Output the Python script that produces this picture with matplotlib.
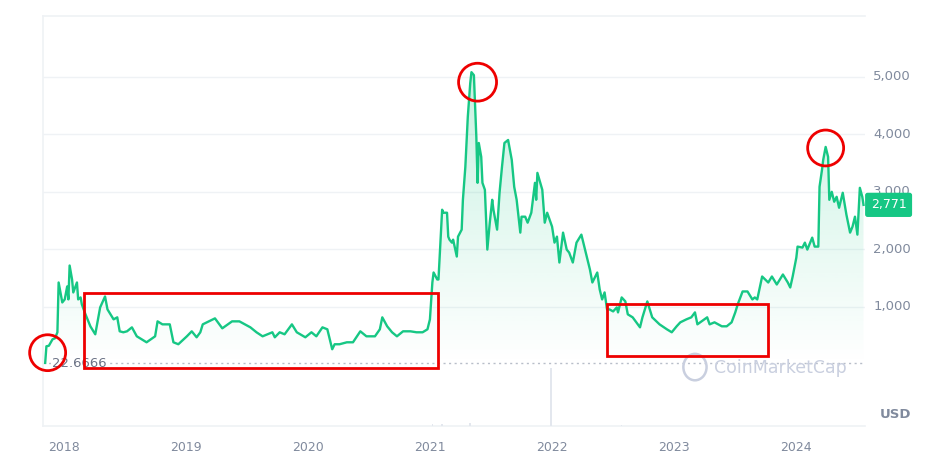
import numpy as np
import matplotlib.pyplot as plt
from matplotlib.patches import Ellipse, Rectangle

# Price history (decimal year, USD)
dates = [
    2017.85, 2017.86, 2017.88, 2017.91, 2017.93, 2017.95, 2017.96, 2017.99, 2018.01, 2018.03,
    2018.04, 2018.05, 2018.07, 2018.08, 2018.11, 2018.12, 2018.14, 2018.15, 2018.18, 2018.22,
    2018.26, 2018.30, 2018.34, 2018.36, 2018.41, 2018.44, 2018.46, 2018.49, 2018.52, 2018.56,
    2018.60, 2018.68, 2018.75, 2018.77, 2018.81, 2018.87, 2018.90, 2018.94, 2019.01, 2019.05,
    2019.09, 2019.12, 2019.14, 2019.24, 2019.30, 2019.38, 2019.44, 2019.53, 2019.55, 2019.58,
    2019.63, 2019.71, 2019.73, 2019.77, 2019.81, 2019.87, 2019.91, 2019.98, 2020.03, 2020.07,
    2020.12, 2020.16, 2020.20, 2020.22, 2020.26, 2020.32, 2020.37, 2020.43, 2020.48, 2020.55,
    2020.59, 2020.61, 2020.65, 2020.69, 2020.73, 2020.78, 2020.84, 2020.89, 2020.94, 2020.98,
    2021.00, 2021.02, 2021.03, 2021.06, 2021.07, 2021.10, 2021.11, 2021.14, 2021.15, 2021.16,
    2021.18, 2021.19, 2021.22, 2021.23, 2021.26, 2021.27, 2021.29, 2021.31, 2021.33, 2021.34,
    2021.36, 2021.37, 2021.38, 2021.39, 2021.40, 2021.42, 2021.43, 2021.45, 2021.47, 2021.49,
    2021.51, 2021.52, 2021.55, 2021.57, 2021.59, 2021.61, 2021.64, 2021.67, 2021.69, 2021.71,
    2021.74, 2021.75, 2021.78, 2021.80, 2021.83, 2021.86, 2021.87, 2021.88, 2021.92, 2021.94,
    2021.96, 2022.00, 2022.02, 2022.04, 2022.06, 2022.09, 2022.12, 2022.14, 2022.17, 2022.20,
    2022.24, 2022.27, 2022.31, 2022.33, 2022.37, 2022.39, 2022.41, 2022.43, 2022.45, 2022.47,
    2022.50, 2022.53, 2022.54, 2022.57, 2022.60, 2022.62, 2022.66, 2022.72, 2022.74, 2022.78,
    2022.82, 2022.88, 2022.94, 2022.98, 2023.02, 2023.05, 2023.10, 2023.14, 2023.17, 2023.19,
    2023.27, 2023.29, 2023.33, 2023.39, 2023.43, 2023.47, 2023.50, 2023.52, 2023.56, 2023.60,
    2023.64, 2023.66, 2023.68, 2023.72, 2023.77, 2023.80, 2023.84, 2023.89, 2023.93, 2023.95,
    2023.97, 2024.00, 2024.01, 2024.05, 2024.07, 2024.09, 2024.13, 2024.15, 2024.18, 2024.19,
    2024.21, 2024.22, 2024.24, 2024.26, 2024.27, 2024.29, 2024.31, 2024.33, 2024.35, 2024.38,
    2024.41, 2024.44, 2024.46, 2024.48, 2024.50, 2024.52, 2024.54, 2024.55,
]
prices = [
    23, 312, 320, 433, 450, 555, 1421, 1074, 1127, 1352,
    1127, 1716, 1473, 1248, 1421, 1127, 1161, 1040, 867, 658,
    520, 988, 1178, 953, 780, 815, 572, 555, 572, 641,
    485, 381, 485, 745, 693, 693, 381, 347, 485, 572,
    468, 555, 693, 797, 624, 745, 745, 641, 607, 555,
    485, 555, 468, 555, 520, 693, 555, 468, 555, 485,
    641, 607, 260, 347, 347, 381, 381, 572, 485, 485,
    607, 815, 659, 555, 485, 572, 572, 555, 555, 607,
    780, 1421, 1595, 1473, 1473, 2686, 2634, 2634, 2218, 2166,
    2114, 2166, 1872, 2218, 2340, 2859, 3431, 4298, 4887, 5078,
    5026, 4471, 3951, 3154, 3847, 3605, 3154, 3033, 1993, 2461,
    2859, 2686, 2340, 2981, 3431, 3847, 3899, 3553, 3085, 2859,
    2288, 2565, 2565, 2461, 2634, 3154, 2859, 3327, 3033, 2461,
    2634, 2392, 2114, 2218, 1768, 2288, 1993, 1941, 1768, 2114,
    2253, 1993, 1646, 1421, 1594, 1300, 1126, 1248, 953, 953,
    918, 988, 901, 1161, 1092, 867, 815, 641, 815, 1092,
    815, 693, 607, 555, 659, 728, 780, 815, 901, 693,
    815, 693, 728, 659, 659, 728, 901, 1040, 1265, 1265,
    1126, 1161, 1126, 1525, 1421, 1525, 1386, 1560, 1421, 1334,
    1525, 1854, 2045, 2028, 2114, 1993, 2201, 2045, 2045, 3085,
    3379, 3553, 3778, 3605, 2859, 2998, 2825, 2911, 2721, 2981,
    2600, 2288, 2392, 2565, 2253, 3067, 2911, 2771,
]

# a few faint volume bars near the bottom
vol_dates = [2021.02, 2021.10, 2021.33, 2021.99, 2022.57]
vol_values = [3, 3, 6, 100, 2]

year_ticks = [2018, 2019, 2020, 2021, 2022, 2023, 2024]
price_ticks = [1000, 2000, 3000, 4000, 5000]
low_price = 22.6666
last_price = 2771

green = "#16c784"
grey_text = "#808a9d"
grid_col = "#eff2f5"

fig = plt.figure(figsize=(9.47, 4.76), dpi=100)
ax = fig.add_axes([0.0454, 0.105, 0.8676, 0.862])
xmin, xmax = 2017.832, 2024.559
ymin, ymax = -1075, 6060
ax.set_xlim(xmin, xmax)
ax.set_ylim(ymin, ymax)

# volume on a hidden twin axis
axv = ax.twinx()
axv.set_ylim(0, 710)
axv.bar(vol_dates, vol_values, width=0.012, color="#e3e7ee", zorder=0)
axv.axis("off")

# gradient fill under the line
verts = [(dates[0], 0)] + list(zip(dates, prices)) + [(dates[-1], 0)]
poly = plt.Polygon(verts, closed=True, facecolor="none", edgecolor="none")
ax.add_patch(poly)
grad = np.linspace(0.24, 0.0, 256).reshape(-1, 1)
rgba = np.zeros((256, 1, 4))
rgba[..., 0] = 0x16 / 255
rgba[..., 1] = 0xc7 / 255
rgba[..., 2] = 0x84 / 255
rgba[..., 3] = grad
img = ax.imshow(rgba, extent=[dates[0], dates[-1], 0, max(prices)],
                aspect="auto", origin="upper", zorder=1)
img.set_clip_path(poly)

ax.plot(dates, prices, color=green, lw=1.7, zorder=3, solid_joinstyle="round")

# grid lines
for p in price_ticks:
    ax.axhline(p, color=grid_col, lw=1, zorder=0)
ax.axhline(low_price, color="#b8bec9", lw=1, ls=(0, (1.5, 2.5)), zorder=2)

for s in ["top", "left", "bottom"]:
    ax.spines[s].set_color(grid_col)
    ax.spines[s].set_linewidth(1.2)
ax.spines["right"].set_visible(False)
ax.set_xticks([])
ax.set_yticks([])

# y tick labels on the right
for p in price_ticks:
    ax.text(xmax + 0.07, p, f"{p:,}", color=grey_text, fontsize=9.5,
            va="center", ha="left", clip_on=False)
ax.text(xmax + 0.12, ymin + 80, "USD", color=grey_text, fontsize=9.5,
        fontweight="bold", va="bottom", ha="left", clip_on=False)

# x tick labels
for yr in year_ticks:
    ax.text(yr, ymin - 380, str(yr), color=grey_text, fontsize=9,
            ha="center", va="center", clip_on=False)

# low price label
ax.text(xmin + 0.07, low_price - 10, f"{low_price:.4f}", color="#6b7285", fontsize=9.5,
        ha="left", va="center", zorder=4,
        bbox=dict(facecolor="white", edgecolor="none", pad=0.5))

# last price badge
ax.text(xmax + 0.05, last_price, f"{last_price:,}", color="white", fontsize=9,
        ha="left", va="center", clip_on=False, zorder=6,
        bbox=dict(boxstyle="round,pad=0.45,rounding_size=0.2", facecolor=green,
                  edgecolor="none"))

# watermark
ax.text(2023.87, -60, "CoinMarketCap", color="#c9cfdf", fontsize=12.5,
        ha="center", va="center", zorder=2)
ax.add_patch(Ellipse((2023.17, -50), 0.19, 460, facecolor="none",
                     edgecolor="#c9cfdf", lw=1.8, zorder=2))

# red highlights
red = "#ee0000"
yr_px = 1 / 122.2
pr_px = 17.33
for cx, cy, r in [(2017.87, 200, 18), (2021.39, 4904, 19), (2024.24, 3760, 18)]:
    ax.add_patch(Ellipse((cx, cy), 2 * r * yr_px, 2 * r * pr_px, facecolor="none",
                         edgecolor=red, lw=2, zorder=5, clip_on=False))
for x0, x1, y0, y1 in [(2018.17, 2021.07, -69, 1230), (2022.45, 2023.77, 139, 1040)]:
    ax.add_patch(Rectangle((x0, y0), x1 - x0, y1 - y0, facecolor="none",
                           edgecolor=red, lw=2, zorder=5, clip_on=False))

fig.savefig("out.png", dpi=100)
